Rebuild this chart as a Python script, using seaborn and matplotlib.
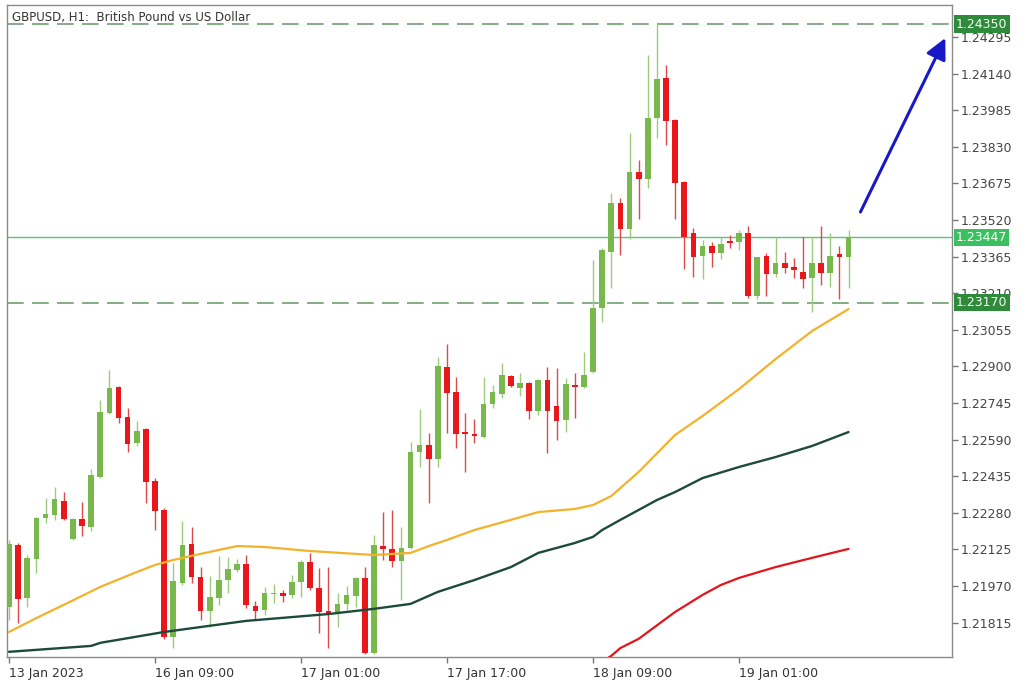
import numpy as np
import pandas as pd
import matplotlib
matplotlib.use("Agg")
import matplotlib.pyplot as plt
import matplotlib.transforms as mtransforms
import seaborn as sns

# GBPUSD H1 candles (13 Jan 17:00 .. 19 Jan)
opens = [1.21881, 1.22144, 1.21919, 1.22084, 1.22258, 1.22271, 1.22330, 1.22169, 1.22254, 1.22220,
         1.22432, 1.22703, 1.22813, 1.22686, 1.22576, 1.22635, 1.22415, 1.22292, 1.21754, 1.21983,
         1.22148, 1.22008, 1.21864, 1.21919, 1.21995, 1.22038, 1.22063, 1.21885, 1.21868, 1.21936,
         1.21940, 1.21932, 1.21987, 1.22072, 1.21962, 1.21864, 1.21860, 1.21894, 1.21928, 1.22004,
         1.21686, 1.22139, 1.22127, 1.22076, 1.22131, 1.22538, 1.22567, 1.22508, 1.22898, 1.22792,
         1.22622, 1.22614, 1.22601, 1.22741, 1.22783, 1.22859, 1.22809, 1.22830, 1.22711, 1.22842,
         1.22732, 1.22673, 1.22821, 1.22813, 1.22876, 1.23147, 1.23384, 1.23592, 1.23482, 1.23723,
         1.23694, 1.23952, 1.24121, 1.23944, 1.23681, 1.23465, 1.23368, 1.23410, 1.23380, 1.23431,
         1.23427, 1.23465, 1.23198, 1.23368, 1.23291, 1.23338, 1.23321, 1.23300, 1.23274, 1.23338,
         1.23296, 1.23376, 1.23363]
highs = [1.22165, 1.22152, 1.22101, 1.22262, 1.22343, 1.22389, 1.22368, 1.22258, 1.22326, 1.22466,
         1.22758, 1.22885, 1.22817, 1.22724, 1.22669, 1.22639, 1.22427, 1.22300, 1.22067, 1.22245,
         1.22220, 1.22050, 1.22012, 1.22097, 1.22093, 1.22084, 1.22101, 1.21906, 1.21966, 1.21979,
         1.21953, 1.22017, 1.22080, 1.22110, 1.22046, 1.22050, 1.21940, 1.21970, 1.22008, 1.22050,
         1.22186, 1.22283, 1.22292, 1.22220, 1.22580, 1.22720, 1.22618, 1.22940, 1.22995, 1.22855,
         1.22703, 1.22677, 1.22855, 1.22821, 1.22914, 1.22864, 1.22872, 1.22834, 1.22847, 1.22898,
         1.22893, 1.22851, 1.22872, 1.22961, 1.23351, 1.23401, 1.23634, 1.23613, 1.23888, 1.23774,
         1.24219, 1.24350, 1.24176, 1.23948, 1.23685, 1.23486, 1.23435, 1.23427, 1.23448, 1.23456,
         1.23478, 1.23495, 1.23363, 1.23380, 1.23448, 1.23384, 1.23359, 1.23448, 1.23448, 1.23495,
         1.23465, 1.23410, 1.23478]
lows = [1.21826, 1.21813, 1.21881, 1.22025, 1.22237, 1.22250, 1.22250, 1.22165, 1.22182, 1.22203,
        1.22427, 1.22698, 1.22660, 1.22538, 1.22563, 1.22322, 1.22207, 1.21746, 1.21707, 1.21974,
        1.21983, 1.21826, 1.21796, 1.21890, 1.21940, 1.22029, 1.21877, 1.21826, 1.21847, 1.21898,
        1.21902, 1.21919, 1.21923, 1.21953, 1.21771, 1.21707, 1.21796, 1.21868, 1.21881, 1.21682,
        1.21682, 1.22080, 1.22050, 1.21911, 1.22127, 1.22474, 1.22322, 1.22474, 1.22618, 1.22554,
        1.22453, 1.22576, 1.22597, 1.22724, 1.22766, 1.22813, 1.22775, 1.22677, 1.22694, 1.22533,
        1.22588, 1.22622, 1.22682, 1.22809, 1.22872, 1.23088, 1.23232, 1.23372, 1.23440, 1.23524,
        1.23656, 1.23867, 1.23838, 1.23524, 1.23313, 1.23279, 1.23270, 1.23321, 1.23355, 1.23401,
        1.23393, 1.23190, 1.23185, 1.23198, 1.23279, 1.23296, 1.23274, 1.23232, 1.23130, 1.23245,
        1.23236, 1.23185, 1.23232]
closes = [1.22148, 1.21915, 1.22089, 1.22258, 1.22275, 1.22338, 1.22254, 1.22254, 1.22224, 1.22440,
          1.22707, 1.22809, 1.22682, 1.22571, 1.22626, 1.22410, 1.22288, 1.21754, 1.21991, 1.22144,
          1.22008, 1.21864, 1.21923, 1.21995, 1.22042, 1.22063, 1.21890, 1.21864, 1.21940, 1.21940,
          1.21928, 1.21987, 1.22072, 1.21962, 1.21860, 1.21856, 1.21894, 1.21932, 1.22004, 1.21686,
          1.22144, 1.22127, 1.22076, 1.22131, 1.22538, 1.22567, 1.22508, 1.22902, 1.22787, 1.22614,
          1.22614, 1.22605, 1.22741, 1.22792, 1.22864, 1.22817, 1.22830, 1.22711, 1.22842, 1.22711,
          1.22669, 1.22826, 1.22813, 1.22864, 1.23147, 1.23393, 1.23592, 1.23482, 1.23723, 1.23694,
          1.23952, 1.24117, 1.23939, 1.23677, 1.23448, 1.23363, 1.23410, 1.23380, 1.23418, 1.23423,
          1.23465, 1.23198, 1.23363, 1.23291, 1.23338, 1.23317, 1.23308, 1.23270, 1.23338, 1.23296,
          1.23368, 1.23363, 1.23447]

time_ticks = [0, 16, 32, 48, 64, 80]
time_labels = ["13 Jan 2023", "16 Jan 09:00", "17 Jan 01:00", "17 Jan 17:00", "18 Jan 09:00", "19 Jan 01:00"]

price_ticks = [1.21815, 1.21970, 1.22125, 1.22280, 1.22435, 1.22590, 1.22745, 1.22900, 1.23055,
               1.23210, 1.23365, 1.23520, 1.23675, 1.23830, 1.23985, 1.24140, 1.24295]

# moving averages (sampled along the lines)
ma_fast_idx = [0, 3, 6, 10, 14, 16, 18, 21, 25, 28, 33, 40, 44, 46, 48, 51, 55, 58, 62, 64, 66, 69,
               73, 76, 80, 84, 88, 92]
ma_fast = [1.21775, 1.21834, 1.21890, 1.21966, 1.22029, 1.22059, 1.22080, 1.22106, 1.22139, 1.22135,
           1.22118, 1.22101, 1.22110, 1.22139, 1.22165, 1.22207, 1.22250, 1.22283, 1.22296, 1.22313,
           1.22351, 1.22453, 1.22610, 1.22690, 1.22804, 1.22931, 1.23050, 1.23143]
ma_mid_idx = [0, 9, 10, 17, 21, 26, 35, 40, 44, 47, 51, 55, 58, 60, 62, 64, 65, 67, 69, 71, 73, 76,
              80, 84, 88, 92]
ma_mid = [1.21691, 1.21716, 1.21729, 1.21775, 1.21796, 1.21822, 1.21851, 1.21873, 1.21894, 1.21945,
          1.21995, 1.22050, 1.22110, 1.22131, 1.22152, 1.22178, 1.22207, 1.22250, 1.22292, 1.22334,
          1.22368, 1.22427, 1.22474, 1.22516, 1.22563, 1.22622]
ma_slow_idx = [62, 66, 67, 69, 73, 76, 78, 80, 84, 88, 92]
ma_slow = [1.21572, 1.21674, 1.21707, 1.21746, 1.21860, 1.21932, 1.21974, 1.22004, 1.22050, 1.22089,
           1.22127]

level_top = 1.24350
level_now = 1.23447
level_low = 1.23170

arrow_from = (93.3, 1.23554)
arrow_to = (102.6, 1.24291)

sns.set_style("white")
plt.rcParams['font.family'] = ['DejaVu Sans']

df = pd.DataFrame({"open": opens, "high": highs, "low": lows, "close": closes})
df["idx"] = np.arange(len(df))
df["up"] = df["close"] >= df["open"]

fig = plt.figure(figsize=(10.24, 6.94), dpi=100)
ax = fig.add_axes([0.00684, 0.05331, 0.9229, 0.9395])

# levels
ax.axhline(level_top, color="#6f9f70", lw=1.2, ls=(0, (10, 5)), zorder=1)
ax.axhline(level_low, color="#6f9f70", lw=1.2, ls=(0, (10, 5)), zorder=1)
ax.axhline(level_now, color="#5cc27c", lw=1.0, zorder=1)

# candles
wick_col = np.where(df["up"], "#9ccb7e", "#de4a4a")
body_col = np.where(df["up"], "#78b84c", "#e8171c")
ax.vlines(df["idx"], df["low"], df["high"], colors=wick_col, lw=1.0, zorder=2)
body_lo = df[["open", "close"]].min(axis=1)
body_h = (df["close"] - df["open"]).abs().clip(lower=0.00005)
ax.bar(df["idx"], body_h, bottom=body_lo, width=0.62, color=body_col, linewidth=0, zorder=3)

# moving averages
sns.lineplot(x=ma_fast_idx, y=ma_fast, ax=ax, color="#f3b22b", linewidth=1.6, zorder=4, legend=False)
sns.lineplot(x=ma_mid_idx, y=ma_mid, ax=ax, color="#1d4b3a", linewidth=1.7, zorder=4, legend=False)
sns.lineplot(x=ma_slow_idx, y=ma_slow, ax=ax, color="#e2151c", linewidth=1.6, zorder=4, legend=False)

ax.annotate("", xy=arrow_to, xytext=arrow_from,
            arrowprops=dict(arrowstyle="-|>,head_length=0.9,head_width=0.45", color="#1818c8",
                            lw=2.2, mutation_scale=14, shrinkA=0, shrinkB=0), zorder=6)

ax.set_xlim(-0.22, 103.34)
ax.set_ylim(1.21669, 1.24431)

ax.yaxis.tick_right()
ax.set_yticks(price_ticks)
ax.set_yticklabels([f"{v:.5f}" for v in price_ticks])
ax.set_xticks(time_ticks)
ax.set_xticklabels(time_labels, ha="left")
ax.tick_params(axis="y", right=True, left=False, length=4, width=1, color="#777777",
               labelsize=9, labelcolor="#444444", pad=2)
ax.tick_params(axis="x", bottom=True, length=4, width=1, color="#777777",
               labelsize=9, labelcolor="#333333", pad=3)
ax.set_xlabel("")
ax.set_ylabel("")
for s in ax.spines.values():
    s.set_color("#8a8a8a")
    s.set_linewidth(1)

# price boxes on the right scale
trans = mtransforms.blended_transform_factory(ax.transAxes, ax.transData)
for val, fc in [(level_top, "#2f8a3c"), (level_now, "#3cbf62"), (level_low, "#2f8a3c")]:
    ax.text(1.004, val, f"{val:.5f}", transform=trans, ha="left", va="center", fontsize=9,
            color="#f2fff2", zorder=7, clip_on=False,
            bbox=dict(boxstyle="square,pad=0.18", fc=fc, ec="none"))

ax.text(0.0053, 0.991, "GBPUSD, H1:  British Pound vs US Dollar", transform=ax.transAxes,
        fontsize=8.5, color="#333333", va="top", ha="left")

fig.savefig("out.png", dpi=100)
